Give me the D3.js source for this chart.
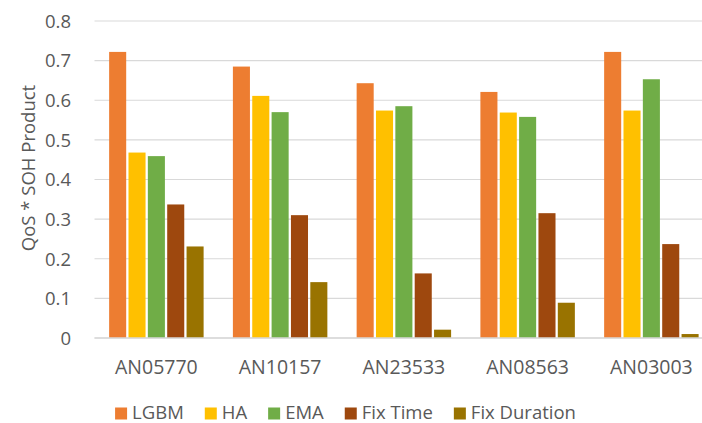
<!DOCTYPE html>
<html>
<head>
<meta charset="utf-8">
<script src="https://cdn.jsdelivr.net/npm/d3@7"></script>
<style>
  html, body { margin: 0; padding: 0; background: #fff; overflow: hidden; }
  text { font-family: "Open Sans", "Noto Sans", sans-serif; fill: #595959; }
</style>
</head>
<body>
<svg id="chart" width="702" height="423"></svg>
<script>
const categories = ["AN05770", "AN10157", "AN23533", "AN08563", "AN03003"];
const seriesNames = ["LGBM", "HA", "EMA", "Fix Time", "Fix Duration"];
const LGBM        = [0.722, 0.685, 0.643, 0.621, 0.722];
const HA          = [0.468, 0.611, 0.574, 0.569, 0.574];
const EMA         = [0.459, 0.570, 0.585, 0.558, 0.653];
const FixTime     = [0.337, 0.310, 0.163, 0.315, 0.237];
const FixDuration = [0.231, 0.141, 0.021, 0.089, 0.010];
const yTicks = [0, 0.1, 0.2, 0.3, 0.4, 0.5, 0.6, 0.7, 0.8];
const colors = ["#ED7D31", "#FFC000", "#70AD47", "#9E480E", "#997300"];

const seriesValues = [LGBM, HA, EMA, FixTime, FixDuration];
const svg = d3.select("#chart");

const plotLeft = 94.5, plotRight = 94.5 + 5 * 123.75, plotTop = 21, plotBottom = 338;

const x0 = d3.scaleBand().domain(categories).range([plotLeft, plotRight])
  .paddingInner(0.218).paddingOuter(0.109);
const x1 = d3.scaleBand().domain(seriesNames).range([0, x0.bandwidth()]).padding(0);
const y = d3.scaleLinear().domain([0, 0.8]).range([plotBottom, plotTop]);

// gridlines
svg.append("g").selectAll("line").data(yTicks).join("line")
  .attr("x1", plotLeft).attr("x2", plotRight)
  .attr("y1", d => y(d)).attr("y2", d => y(d))
  .attr("stroke", "#d9d9d9").attr("stroke-width", 1.2);

// bars
const gap = 2.3;
categories.forEach((c, ci) => {
  svg.append("g").selectAll("rect").data(seriesNames).join("rect")
    .attr("x", s => x0(c) + x1(s) + gap / 2)
    .attr("width", x1.bandwidth() - gap)
    .attr("y", (s, si) => y(seriesValues[si][ci]))
    .attr("height", (s, si) => y(0) - y(seriesValues[si][ci]))
    .attr("fill", (s, si) => colors[si]);
});

// baseline
svg.append("line").attr("x1", plotLeft).attr("x2", plotRight)
  .attr("y1", y(0)).attr("y2", y(0))
  .attr("stroke", "#d9d9d9").attr("stroke-width", 1.5);

// y axis
const yAxis = d3.axisLeft(y).tickValues(yTicks).tickSize(0).tickPadding(0)
  .tickFormat(d => d === 0 ? "0" : d3.format(".1f")(d));
const gy = svg.append("g").attr("transform", `translate(71,0)`).call(yAxis);
gy.select(".domain").remove();
gy.selectAll("text").attr("font-size", 18.5).attr("fill", "#595959")
  .style("font-family", '"Open Sans", sans-serif').attr("dy", "0.34em");

// x axis
const xAxis = d3.axisBottom(x0).tickSize(0).tickPadding(0);
const gx = svg.append("g").attr("transform", `translate(0,${plotBottom})`).call(xAxis);
gx.select(".domain").remove();
gx.selectAll("text").attr("font-size", 19.5).attr("fill", "#595959")
  .style("font-family", '"Open Sans", sans-serif').attr("dy", null).attr("y", 36);

// y title
svg.append("text")
  .attr("transform", `translate(35,168) rotate(-90)`)
  .attr("text-anchor", "middle")
  .attr("font-size", 18.5)
  .text("QoS * SOH Product");

// legend
const lg = svg.append("g");
const items = lg.selectAll("g").data(seriesNames).join("g");
items.append("rect").attr("width", 12).attr("height", 12).attr("y", 407.5)
  .attr("fill", (d, i) => colors[i]);
items.append("text").attr("x", 17).attr("y", 418.5).attr("font-size", 18.5).text(d => d);
const widths = [];
items.each(function() {
  const w = 17 + d3.select(this).select("text").node().getComputedTextLength();
  widths.push(w);
});
const totalW = d3.sum(widths) + 21 * (widths.length - 1);
let start = 345.5 - totalW / 2;
items.attr("transform", (d, i) => {
  const t = `translate(${start},0)`;
  start += widths[i] + 21;
  return t;
});
</script>
</body>
</html>
